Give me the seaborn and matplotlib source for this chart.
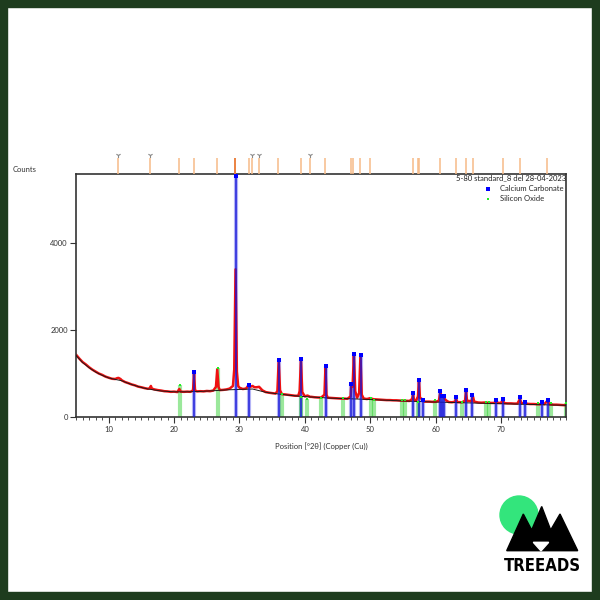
import matplotlib
matplotlib.use("Agg")
import matplotlib.pyplot as plt
import seaborn as sns
import numpy as np
from matplotlib.patches import Circle, Polygon, Rectangle

obs_x = [5.0, 5.5, 6.0, 6.5, 7.0, 7.5, 8.0, 8.5, 9.0, 9.5, 10.0, 10.5, 11.0, 11.3, 11.5, 11.8,
         12.0, 12.5, 13.0, 13.5, 14.0, 14.5, 15.0, 15.5, 16.0, 16.3, 16.45, 16.6, 17.0, 17.5,
         18.0, 18.5, 19.0, 19.5, 20.0, 20.5, 20.8, 21.0, 21.5, 22.0, 22.5, 22.9, 23.05, 23.2,
         23.5, 24.0, 24.5, 25.0, 25.5, 26.0, 26.4, 26.6, 26.8, 27.0, 27.5, 28.0, 28.5, 29.0,
         29.2, 29.4, 29.6, 29.8, 30.0, 30.5, 31.0, 31.3, 31.45, 31.6, 32.0, 32.3, 32.6, 33.0,
         33.3, 33.5, 34.0, 34.5, 35.0, 35.5, 35.8, 36.0, 36.2, 36.5, 37.0, 37.5, 38.0, 38.5,
         39.0, 39.2, 39.4, 39.6, 40.0, 40.4, 40.8, 41.0, 41.5, 42.0, 42.5, 43.0, 43.15, 43.3,
         43.5, 44.0, 44.5, 45.0, 45.5, 46.0, 46.5, 47.0, 47.1, 47.3, 47.5, 47.7, 48.0, 48.3,
         48.5, 48.7, 49.0, 49.5, 50.0, 50.5, 51.0, 51.5, 52.0, 52.5, 53.0, 53.5, 54.0, 54.5,
         55.0, 55.5, 56.0, 56.4, 56.55, 56.7, 57.0, 57.3, 57.45, 57.6, 57.9, 58.1, 58.3, 59.0,
         59.5, 60.0, 60.5, 60.7, 60.9, 61.2, 61.5, 62.0, 62.5, 63.0, 63.1, 63.3, 64.0, 64.5,
         64.65, 64.8, 65.5, 65.7, 65.9, 66.5, 67.0, 67.5, 68.0, 68.5, 69.0, 69.25, 69.5, 70.0,
         70.25, 70.5, 71.0, 71.5, 72.0, 72.5, 72.9, 73.1, 73.7, 74.0, 74.5, 75.0, 75.5, 76.0,
         76.3, 76.6, 77.1, 77.4, 78.0, 78.5, 79.0, 79.5, 80.0]
obs_y = [1440, 1350, 1270, 1215, 1150, 1095, 1050, 1005, 975, 935, 910, 885, 880, 900, 905, 880,
         850, 810, 785, 755, 735, 705, 690, 670, 655, 670, 720, 660, 640, 625,
         615, 600, 595, 585, 590, 580, 650, 590, 585, 590, 585, 620, 1000, 620,
         595, 600, 595, 605, 600, 615, 700, 1100, 690, 625, 630, 640, 660, 720,
         1100, 3400, 1050, 720, 680, 650, 660, 720, 760, 700, 720, 690, 690, 700,
         650, 620, 580, 565, 555, 545, 600, 1300, 620, 530, 525, 515, 505, 495,
         495, 600, 1320, 580, 480, 500, 470, 470, 460, 455, 455, 520, 1150, 520,
         450, 445, 440, 435, 430, 430, 425, 480, 760, 700, 1440, 600, 450, 560,
         1420, 520, 430, 420, 440, 415, 410, 405, 400, 395, 395, 390, 390, 385,
         385, 380, 375, 420, 520, 400, 380, 480, 840, 450, 420, 390, 360, 360,
         355, 355, 380, 560, 480, 470, 400, 350, 345, 360, 440, 350, 345, 380,
         600, 380, 370, 480, 360, 340, 335, 340, 335, 330, 330, 390, 330, 330,
         400, 325, 320, 320, 315, 315, 420, 320, 340, 310, 305, 305, 300, 300,
         340, 300, 380, 300, 290, 290, 285, 280, 275]

# fitted background
bg_x = [5, 6, 7, 8, 9, 10, 11, 12, 13, 14, 15, 16, 18, 20, 22, 24, 26, 28, 30, 32, 34,
        36, 38, 40, 44, 48, 52, 56, 60, 64, 68, 72, 76, 80]
bg_y = [1420, 1260, 1140, 1040, 965, 905, 870, 840, 780, 730, 685, 650, 605, 585, 585, 595,
        610, 630, 640, 650, 575, 535, 500, 475, 440, 420, 395, 370, 350, 335, 320, 305, 290, 275]

# reference patterns
calcite_x = [23.05, 29.4, 31.45, 36.0, 39.42, 43.17, 47.12, 47.5, 48.52, 56.57, 57.42, 58.08,
             60.67, 60.98, 61.35, 63.06, 64.67, 65.62, 69.2, 70.24, 72.9, 73.7, 76.3, 77.15]
calcite_y = [1050, 5550, 750, 1325, 1333, 1180, 775, 1450, 1425, 550, 865, 405,
             615, 500, 500, 467, 630, 520, 405, 430, 460, 350, 350, 405]
quartz_x = [20.86, 26.64, 36.54, 39.47, 40.29, 42.45, 45.79, 50.14, 50.62, 54.87, 55.32,
            57.24, 59.96, 63.99, 67.74, 68.14, 75.66, 77.67, 79.88]
quartz_y = [735, 1135, 530, 467, 430, 440, 440, 450, 390, 400, 400,
            350, 405, 350, 360, 360, 340, 330, 320]

# peak list shown above the plot
peak_list = [11.38, 16.31, 20.75, 23.0, 26.56, 29.36, 31.41, 31.96, 32.98, 35.89, 39.36,
             40.73, 43.12, 47.09, 47.31, 48.47, 49.95, 56.53, 57.34, 57.49, 60.66, 63.10,
             64.63, 65.66, 70.29, 72.89, 77.06]
flagged = [11.38, 16.31, 31.96, 32.98, 40.73]

sns.set_style("ticks")
plt.rcParams["font.family"] = ["Lato", "DejaVu Sans"]
plt.rcParams["font.size"] = 5.5

fig = plt.figure(figsize=(6, 6), dpi=100)
ax = fig.add_axes([0.1267, 0.3045, 0.8173, 0.4055])

ax.vlines(calcite_x, 0, calcite_y, color="#2a2ae8", lw=3, alpha=0.35, zorder=1)
ax.vlines(quartz_x, 0, quartz_y, color="#22cc22", lw=3, alpha=0.45, zorder=1)

sns.lineplot(x=obs_x, y=obs_y, ax=ax, color="#ee1111", lw=1.8, estimator=None, zorder=2)
sns.lineplot(x=bg_x, y=bg_y, ax=ax, color="#1a1a1a", lw=0.7, estimator=None, zorder=3)
ax.vlines(calcite_x, 0, calcite_y, color="#1414d8", lw=1.3, alpha=0.8, zorder=4)

sns.scatterplot(x=calcite_x, y=calcite_y, ax=ax, color="#0000ff", marker="s", s=7,
                linewidth=0, zorder=5, label="Calcium Carbonate")
sns.scatterplot(x=quartz_x, y=quartz_y, ax=ax, color="#22ee22", marker="s", s=4,
                linewidth=0, zorder=5, label="Silicon Oxide")

ax.set_xlim(5, 80)
ax.set_ylim(0, 5590)
ax.set_xticks([10, 20, 30, 40, 50, 60, 70])
ax.set_xticks(np.arange(5, 81, 1), minor=True)
ax.set_yticks([0, 2000, 4000])
ax.tick_params(axis="both", which="major", length=4, width=0.8, colors="#333333",
               labelsize=5.5, pad=2)
ax.tick_params(axis="x", which="minor", length=2, width=0.6, colors="#333333")
for sp in ax.spines.values():
    sp.set_color("#333333")
    sp.set_linewidth(1.2)
ax.set_xlabel("Position [°2θ] (Copper (Cu))", fontsize=5.5, color="#333333", labelpad=7)
ax.set_ylabel("")
ax.text(0.999, 0.997, "5-80 standard_8 del 28-04-2023", transform=ax.transAxes,
        ha="right", va="top", fontsize=5.5, color="#222222")
ax.legend(loc="upper right", bbox_to_anchor=(1.005, 0.975), frameon=False,
          fontsize=5.5, handletextpad=0.6, labelspacing=0.4, borderpad=0.2)
fig.text(13 / 600, 1 - 169 / 600, "Counts", fontsize=5.5, va="center", color="#333333")

# peak list strip
top = fig.add_axes([0.1267, 0.71, 0.8173, 0.045], sharex=ax)
top.vlines(peak_list, 0, 0.58, color="#f7bb88", lw=1.1)
top.vlines([29.36], 0, 0.58, color="#e8702a", lw=1.1)
top.scatter(flagged, [0.72] * len(flagged), marker="1", color="#888888", s=14, lw=0.8)
top.set_ylim(0, 1)
top.axis("off")

# frame and logo
ov = fig.add_axes([0, 0, 1, 1])
ov.set_xlim(0, 600)
ov.set_ylim(600, 0)
ov.axis("off")
green = "#1e3c1e"
ov.add_patch(Rectangle((0, 0), 7, 600, color=green))
ov.add_patch(Rectangle((592, 0), 8, 600, color=green))
ov.add_patch(Rectangle((0, 0), 600, 7, color=green))
ov.add_patch(Rectangle((0, 592), 600, 8, color=green))
ov.add_patch(Circle((519, 515), 19, color="#33e57c"))
ov.add_patch(Polygon([(506.7, 550.7), (523.3, 514), (531.7, 530), (541.7, 506.5),
                      (550.7, 530), (560, 514), (577.7, 550.7)], color="black"))
ov.add_patch(Polygon([(533.3, 542.3), (548.7, 542.3), (541, 550.9)], color="white"))
ov.text(542.5, 566, "TREEADS", ha="center", va="center", fontsize=12, fontweight="bold",
        family=["DejaVu Sans"], fontstretch="condensed", color="black")

fig.savefig("out.png", dpi=100)
